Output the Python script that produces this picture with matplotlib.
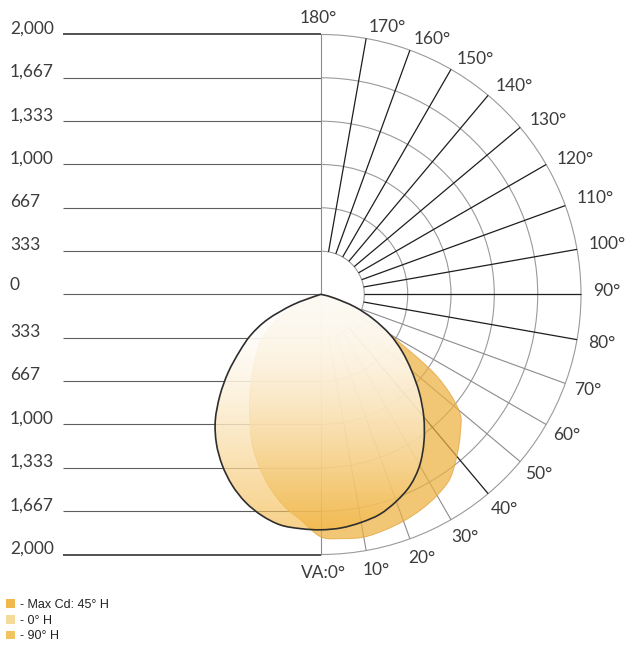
import numpy as np
import matplotlib
matplotlib.use("Agg")
import matplotlib.pyplot as plt
from matplotlib.patches import Arc, PathPatch, Patch
from matplotlib.path import Path

# Vertical angle (deg from nadir) at which the candela values are given
gamma_deg = [0, 5, 10, 15, 20, 25, 30, 35, 40, 45, 50, 55, 60, 65, 70, 75, 80, 85, 90]

# Max Cd plane (45° H) and its opposite half
max45_right = [1865, 1885, 1895, 1878, 1855, 1825, 1785, 1730, 1625, 1515, 1385, 1075,
               610, 380, 230, 120, 40, 0, 0]
max45_left = [1855, 1745, 1650, 1533, 1400, 1258, 1095, 957, 830, 720, 630, 530,
              400, 260, 150, 70, 20, 0, 0]

# 0° H plane
h0_right = [1810, 1802, 1780, 1750, 1693, 1622, 1518, 1381, 1230, 1070, 908, 760,
            610, 440, 275, 105, 20, 0, 0]
h0_left = [1810, 1808, 1800, 1760, 1700, 1618, 1518, 1402, 1265, 1100, 932, 766,
           623, 453, 230, 30, 0, 0, 0]

# 90° H plane
h90_right = [1810, 1802, 1780, 1750, 1693, 1622, 1518, 1381, 1230, 1070, 908, 760,
             610, 440, 275, 105, 20, 0, 0]
h90_left = [1810, 1808, 1800, 1760, 1700, 1618, 1518, 1402, 1265, 1100, 932, 766,
            623, 453, 230, 30, 0, 0, 0]

# Candela rings and their labels
ring_values = [333, 667, 1000, 1333, 1667, 2000]
ring_labels = ["333", "667", "1,000", "1,333", "1,667", "2,000"]

# Angle spokes
spoke_angles = list(range(0, 190, 10))
dark_spokes = [40, 80, 90, 100, 110, 120, 130, 140, 150, 160, 170]

legend_labels = ["- Max Cd: 45° H", "- 0° H", "- 90° H"]

# ---------------------------------------------------------------------------
W, H = 626, 647
CX, CY = 321, 294.5         # centre of the diagram in pixels
PX_PER_CD = 260 / 2000      # radial scale

fig = plt.figure(figsize=(W / 100, H / 100), dpi=100)
ax = fig.add_axes([0, 0, 1, 1])
ax.axis("off")


def px(d):
    return d / PX_PER_CD


def direction(g):
    r = np.deg2rad(g)
    return np.sin(r), -np.cos(r)


label_font = dict(family=["Lato", "DejaVu Sans"], fontsize=12.5, color="#3c3c3c")

# Horizontal scale on the left
for v, lab in zip([0] + ring_values, ["0"] + ring_labels):
    for sgn in ([1] if v == 0 else [1, -1]):
        y = sgn * v
        strong = v == 2000
        ax.plot([px(63 - CX), 0], [y, y], color="#222222" if strong else "#5e5e5e",
                lw=1.1 if strong else 0.8, zorder=1, solid_capstyle="butt")
        ax.text(px(10 - CX), y + px(1 if v else 4), lab, ha="left", va="baseline",
                zorder=6, **label_font)

# Rings on the right half
for v in ring_values:
    ax.add_patch(Arc((0, 0), 2 * v, 2 * v, theta1=-90, theta2=90,
                     color="#9a9a9a", lw=0.8, zorder=1))

# Spokes
for g in spoke_angles:
    dx, dy = direction(g)
    r0 = 0 if g in (0, 180) else ring_values[0]
    dark = g in dark_spokes
    ax.plot([r0 * dx, 2000 * dx], [r0 * dy, 2000 * dy],
            color="#1e1e1e" if dark else "#8c8c8c", lw=0.9 if dark else 0.8,
            zorder=1, solid_capstyle="butt")

# Angle labels
r_lab = 2000 + px(12)
for g in spoke_angles:
    dx, dy = direction(g)
    x, y = r_lab * dx, r_lab * dy
    if g == 180:
        ax.text(x - px(3), y + px(4), "180°", ha="center", va="center",
                zorder=6, **label_font)
    elif g == 0:
        ax.text(px(2), y - px(6), "VA:0°", ha="center", va="center",
                zorder=6, **label_font)
    else:
        c = np.cos(np.deg2rad(g))
        if g < 90:
            x, y = x - px(6 * c), y - px(8 * c)
        elif g <= 110:
            y = y + px(3)
        ax.text(x, y, f"{g}°", ha="left", va="center", zorder=6, **label_font)


def curve_points(right, left):
    pts = []
    for g, r in reversed(list(zip(gamma_deg, right))):
        dx, dy = direction(g)
        pts.append((r * dx, r * dy))
    for g, r in list(zip(gamma_deg, left))[1:]:
        dx, dy = direction(g)
        pts.append((-r * dx, r * dy))
    out = [pts[0]]
    for p in pts[1:]:
        if np.hypot(p[0] - out[-1][0], p[1] - out[-1][1]) > 1e-9:
            out.append(p)
    return np.array(out)


def smooth_path(pts):
    """Catmull-Rom spline through the points as cubic Bezier segments."""
    n = len(pts)
    verts = [pts[0]]
    codes = [Path.MOVETO]
    for i in range(n - 1):
        p0 = pts[i - 1] if i > 0 else pts[i]
        p1 = pts[i]
        p2 = pts[i + 1]
        p3 = pts[i + 2] if i + 2 < n else pts[i + 1]
        c1 = p1 + (p2 - p0) / 6.0
        c2 = p2 - (p3 - p1) / 6.0
        verts += [c1, c2, p2]
        codes += [Path.CURVE4] * 3
    verts.append(pts[0])
    codes.append(Path.CLOSEPOLY)
    return Path(np.array(verts), codes)


# Max Cd 45° H
p45 = smooth_path(curve_points(max45_right, max45_left))
c45 = (0.925, 0.69, 0.25)
ax.add_patch(PathPatch(p45, facecolor=c45, alpha=0.72, edgecolor="none", zorder=2))
ax.add_patch(PathPatch(p45, facecolor="none", edgecolor=(0.9, 0.65, 0.25), lw=0.7,
                       alpha=0.8, zorder=2))

# 90° H: vertical gradient fill
p90 = smooth_path(curve_points(h90_right, h90_left))
clip = PathPatch(p90, facecolor="none", edgecolor="none", zorder=3)
ax.add_patch(clip)
n = 256
t = np.linspace(0, 1, n) ** 1.9
top = np.array([1.0, 1.0, 1.0, 0.92])
bot = np.array([0.95, 0.70, 0.22, 0.6])
grad = (top[None, :] * (1 - t[:, None]) + bot[None, :] * t[:, None])[:, None, :]
im = ax.imshow(grad, extent=[-1500, 1500, -1850, 0], origin="upper",
               aspect="auto", interpolation="bilinear", zorder=3)
im.set_clip_path(clip)

# 0° H outline
p0 = smooth_path(curve_points(h0_right, h0_left))
ax.add_patch(PathPatch(p0, facecolor="none", edgecolor="#2e2e2e", lw=1.2, zorder=4))

ax.set_aspect("auto")
ax.set_xlim(-CX / PX_PER_CD, (W - CX) / PX_PER_CD)
ax.set_ylim(-(H - CY) / PX_PER_CD, CY / PX_PER_CD)

# Legend
handles = [Patch(facecolor=(0.94, 0.72, 0.30), edgecolor="none"),
           Patch(facecolor=(0.96, 0.86, 0.60), edgecolor="none"),
           Patch(facecolor=(0.95, 0.77, 0.38), edgecolor="none")]
ax.legend(handles, legend_labels, loc="upper left",
          bbox_to_anchor=(-3 / W, 1 - 590 / H), bbox_transform=fig.transFigure,
          frameon=False, prop=dict(family="Liberation Sans", size=9),
          handlelength=0.7, handleheight=0.7, handletextpad=0.4,
          labelspacing=0.3, borderpad=0.2, labelcolor="#222222")

fig.savefig("out.png", dpi=100)
